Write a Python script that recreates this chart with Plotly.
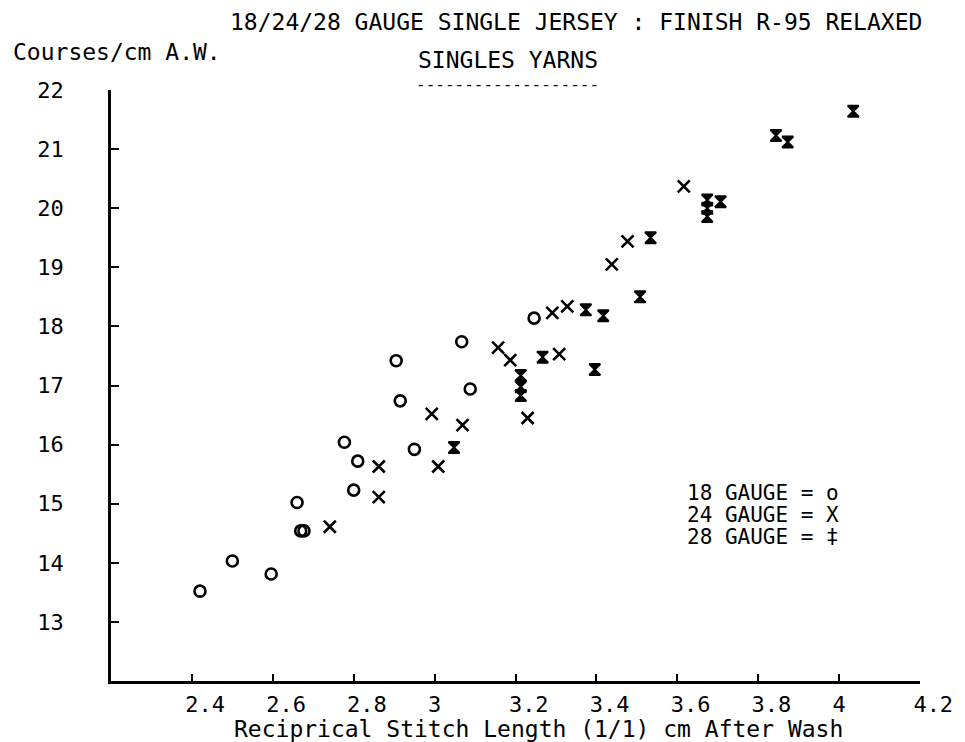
import plotly.graph_objects as go

# ---- data ----
g18_x = [2.42, 2.50, 2.596, 2.66, 2.669, 2.677, 2.777, 2.80, 2.81, 2.905, 2.915, 2.95, 3.067, 3.088, 3.246]
g18_y = [13.52, 14.03, 13.81, 15.02, 14.54, 14.54, 16.04, 15.23, 15.72, 17.42, 16.74, 15.92, 17.74, 16.94, 18.14]

g24_x = [2.741, 2.862, 2.862, 2.993, 3.009, 3.069, 3.157, 3.187, 3.23, 3.291, 3.308, 3.328, 3.438, 3.477, 3.616]
g24_y = [14.61, 15.63, 15.11, 16.52, 15.63, 16.33, 17.64, 17.43, 16.45, 18.23, 17.53, 18.34, 19.05, 19.44, 20.37]

g28_x = [3.048, 3.213, 3.213, 3.213, 3.267, 3.374, 3.396, 3.417, 3.508, 3.534, 3.674, 3.674, 3.674, 3.707, 3.844, 3.873, 4.035]
g28_y = [15.95, 17.17, 16.98, 16.83, 17.48, 18.28, 17.27, 18.18, 18.50, 19.50, 20.14, 20.00, 19.86, 20.11, 21.23, 21.12, 21.64]

x_ticks = [2.4, 2.6, 2.8, 3.0, 3.2, 3.4, 3.6, 3.8, 4.0, 4.2]
x_tick_text = ["2.4", "2.6", "2.8", "3", "3.2", "3.4", "3.6", "3.8", "4", "4.2"]
y_ticks = [13, 14, 15, 16, 17, 18, 19, 20, 21, 22]

title1 = "18/24/28 GAUGE SINGLE JERSEY : FINISH R-95 RELAXED"
title2 = "SINGLES YARNS"
title2_rule = "-------------------"
y_title = "Courses/cm A.W."
x_title = "Reciprical Stitch Length (1/1) cm After Wash"
legend_lines = ["18 GAUGE = o", "24 GAUGE = X", "28 GAUGE = \u2021"]

FONT = "DejaVu Sans Mono"
FS = 22
FA = 23
W, H = 965, 742
L, R, T, B = 111, 40, 90, 61
PW, PH = W - L - R, H - T - B


def px(xpix):
    return (xpix - L) / PW


def py(ypix):
    return (H - B - ypix) / PH


# pad labels so the first character sits on the tick (as on the plotter output)
padded = ["\u00a0" * (len(t) - 1) + t for t in x_tick_text]

fig = go.Figure()
fig.add_trace(go.Scatter(x=g18_x, y=g18_y, mode="markers", name="18 GAUGE",
                         marker=dict(symbol="circle-open", size=11, color="black",
                                     line=dict(width=2.6, color="black"))))
fig.add_trace(go.Scatter(x=g24_x, y=g24_y, mode="markers", name="24 GAUGE",
                         marker=dict(symbol="x-thin", size=12, color="black",
                                     line=dict(width=2.6, color="black"))))
fig.add_trace(go.Scatter(x=g28_x, y=g28_y, mode="markers", name="28 GAUGE",
                         marker=dict(symbol="hourglass", size=11, color="black",
                                     line=dict(width=2, color="black"))))

annotations = [
    dict(text=title1, x=px(579), y=py(22), xanchor="center", yanchor="middle", size=FA),
    dict(text=y_title, x=px(10), y=py(52), xanchor="left", yanchor="middle", size=FA),
    dict(text=title2, x=px(510), y=py(60), xanchor="center", yanchor="middle", size=FA),
    dict(text=title2_rule, x=px(510), y=py(85), xanchor="center", yanchor="middle", size=16),
    dict(text=x_title, x=px(541), y=py(729), xanchor="center", yanchor="middle", size=FA),
]
for i, line in enumerate(legend_lines):
    annotations.append(dict(text=line, x=px(689), y=py(493 + 22 * i),
                            xanchor="left", yanchor="middle", size=21))
ann_objs = []
for a in annotations:
    s = a.pop("size")
    a.update(xref="paper", yref="paper", showarrow=False,
             font=dict(family=FONT, size=s, color="black"))
    ann_objs.append(a)

fig.update_layout(
    width=W, height=H,
    margin=dict(l=L, r=R, t=T, b=B, pad=0),
    paper_bgcolor="white", plot_bgcolor="white",
    showlegend=False,
    font=dict(family=FONT, size=FS, color="black"),
    annotations=ann_objs,
)
fig.update_xaxes(range=[2.2, 4.2], tickvals=x_ticks, ticktext=padded,
                 showline=True, linecolor="black", linewidth=2.5,
                 ticks="inside", ticklen=7, tickwidth=2, tickcolor="black",
                 showgrid=False, zeroline=False, ticklabelstandoff=2,
                 tickfont=dict(family=FONT, size=FS))
fig.update_yaxes(range=[12, 22], tickvals=y_ticks,
                 showline=True, linecolor="black", linewidth=2.5,
                 ticks="inside", ticklen=8, tickwidth=2, tickcolor="black",
                 showgrid=False, zeroline=False, ticklabelstandoff=40,
                 tickfont=dict(family=FONT, size=FS))

fig.write_html("out.html",
               config={"displayModeBar": False},
               post_script="document.body.style.margin='0px';document.body.style.overflow='hidden';")
